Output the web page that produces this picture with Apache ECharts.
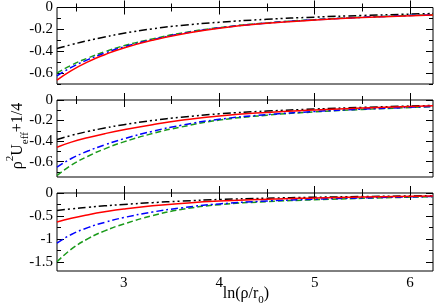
<!DOCTYPE html>
<html><head><meta charset="utf-8">
<script src="https://cdn.jsdelivr.net/npm/echarts@6/dist/echarts.min.js"></script>
<style>html,body{margin:0;padding:0;background:#fff}#c{width:436px;height:308px}</style>
</head><body><div id="c"></div>
<script>
// x positions ln(rho/r0)
const X = [2.3, 2.45, 2.63, 2.8, 3.0, 3.3, 3.6, 4.0, 4.5, 5.0, 5.5, 6.24];
// Panel 1
const p1Black = [-0.375, -0.34, -0.302, -0.27, -0.236, -0.195, -0.165, -0.135, -0.108, -0.088, -0.073, -0.055];
const p1Red   = [-0.665, -0.578, -0.495, -0.432, -0.37, -0.3, -0.245, -0.19, -0.145, -0.115, -0.092, -0.068];
const p1Blue  = [-0.625, -0.548, -0.475, -0.418, -0.36, -0.295, -0.24, -0.187, -0.143, -0.113, -0.09, -0.067];
const p1Green = [-0.6, -0.528, -0.46, -0.405, -0.35, -0.288, -0.235, -0.184, -0.141, -0.111, -0.089, -0.066];
// Panel 2
const p2Black = [-0.385, -0.345, -0.305, -0.273, -0.24, -0.2, -0.168, -0.135, -0.108, -0.088, -0.072, -0.053];
const p2Red   = [-0.46, -0.41, -0.365, -0.328, -0.29, -0.24, -0.198, -0.155, -0.121, -0.098, -0.079, -0.057];
const p2Blue  = [-0.655, -0.57, -0.495, -0.437, -0.378, -0.305, -0.247, -0.188, -0.143, -0.112, -0.089, -0.063];
const p2Green = [-0.735, -0.635, -0.545, -0.476, -0.408, -0.327, -0.263, -0.196, -0.148, -0.116, -0.092, -0.065];
// Panel 3
const p3Black = [-0.38, -0.345, -0.31, -0.28, -0.25, -0.21, -0.178, -0.142, -0.113, -0.093, -0.077, -0.058];
const p3Red   = [-0.63, -0.55, -0.472, -0.41, -0.35, -0.28, -0.228, -0.176, -0.135, -0.108, -0.087, -0.063];
const p3Blue  = [-1.09, -0.905, -0.75, -0.64, -0.535, -0.415, -0.325, -0.238, -0.175, -0.135, -0.107, -0.075];
const p3Green = [-1.5, -1.225, -0.99, -0.825, -0.675, -0.495, -0.36, -0.255, -0.188, -0.148, -0.117, -0.08];

const xMajor = [3, 4, 5, 6];
const xMinor = [2.5, 3.5, 4.5, 5.5];
const yMajor = [[0, -0.2, -0.4, -0.6], [0, -0.2, -0.4, -0.6], [0, -0.5, -1, -1.5]];
const yMinor = [[-0.1, -0.3, -0.5, -0.7], [-0.1, -0.3, -0.5, -0.7], [-0.25, -0.75, -1.25]];
const yMin = [-0.7, -0.75, -1.7];

const panels = [
  [p1Red, p1Blue, p1Green, p1Black],
  [p2Red, p2Blue, p2Green, p2Black],
  [p3Red, p3Blue, p3Green, p3Black]
];
const styles = [
  {color: '#ff0000', type: 'solid'},
  {color: '#0000ff', type: [7, 3, 2, 3]},
  {color: '#1a9a1a', type: [6, 3]},
  {color: '#000000', type: [8, 3, 2, 3, 2, 3]}
];

const gridPos = [{top: 6, height: 78}, {top: 100, height: 77}, {top: 193, height: 78}];
const FONT = 'Liberation Serif';

const grids = [], xAxes = [], yAxes = [], series = [];
gridPos.forEach((g, i) => {
  grids.push({left: 57, right: 3, top: g.top, height: g.height, show: true, borderColor: '#000', borderWidth: 1, backgroundColor: 'transparent'});
  const mkX = (pos, vals, len, labels) => ({
    type: 'value', gridIndex: i, position: pos, min: 2.3, max: 6.24,
    axisLine: {show: false}, splitLine: {show: false},
    axisTick: {show: true, inside: true, length: len, customValues: vals, lineStyle: {color: '#000', width: 1}},
    axisLabel: labels ? {show: true, customValues: vals, color: '#000', fontFamily: FONT, fontSize: 15, margin: 5} : {show: false}
  });
  xAxes.push(mkX('bottom', xMajor, 7, i === 2));
  xAxes.push(mkX('bottom', xMinor, 4, false));
  xAxes.push(mkX('top', xMajor, 7, false));
  xAxes.push(mkX('top', xMinor, 4, false));
  const mkY = (pos, vals, len, labels) => ({
    type: 'value', gridIndex: i, position: pos, min: yMin[i], max: 0,
    axisLine: {show: false}, splitLine: {show: false},
    axisTick: {show: true, inside: true, length: len, customValues: vals, lineStyle: {color: '#000', width: 1}},
    axisLabel: labels ? {show: true, customValues: vals, color: '#000', fontFamily: FONT, fontSize: 15, margin: 4} : {show: false}
  });
  yAxes.push(mkY('left', yMajor[i], 7, true));
  yAxes.push(mkY('left', yMinor[i], 4, false));
  yAxes.push(mkY('right', yMajor[i], 7, false));
  yAxes.push(mkY('right', yMinor[i], 4, false));
  panels[i].forEach((vals, k) => {
    series.push({
      type: 'line', xAxisIndex: 4 * i, yAxisIndex: 4 * i,
      data: X.map((x, j) => [x, vals[j]]),
      smooth: 0.5, symbol: 'none', clip: true,
      lineStyle: {color: styles[k].color, type: styles[k].type, width: 1.5},
      z: 10 - k
    });
  });
});

const chart = echarts.init(document.getElementById('c'), null, {renderer: 'canvas'});
chart.setOption({
  animation: false,
  grid: grids, xAxis: xAxes, yAxis: yAxes, series: series,
  graphic: [
    {type: 'text', x: 246, y: 294, style: {
      text: '{n|ln(ρ/r}{s|0}{n|)}', align: 'center', verticalAlign: 'middle', fill: '#000',
      rich: {
        n: {fontFamily: FONT, fontSize: 16, lineHeight: 24, verticalAlign: 'middle', fill: '#000'},
        s: {fontFamily: FONT, fontSize: 11, lineHeight: 24, verticalAlign: 'bottom', fill: '#000'}
      }}},
    {type: 'text', x: 18, y: 136, rotation: Math.PI / 2, style: {
      text: '{n|ρ}{p|2}{n|U}{s|eff}{n|+1/4}', align: 'center', verticalAlign: 'middle', fill: '#000',
      rich: {
        n: {fontFamily: FONT, fontSize: 16, lineHeight: 26, verticalAlign: 'middle', fill: '#000'},
        p: {fontFamily: FONT, fontSize: 11, lineHeight: 26, verticalAlign: 'top', fill: '#000'},
        s: {fontFamily: FONT, fontSize: 11, lineHeight: 26, verticalAlign: 'bottom', fill: '#000'}
      }}}
  ]
});
</script></body></html>
